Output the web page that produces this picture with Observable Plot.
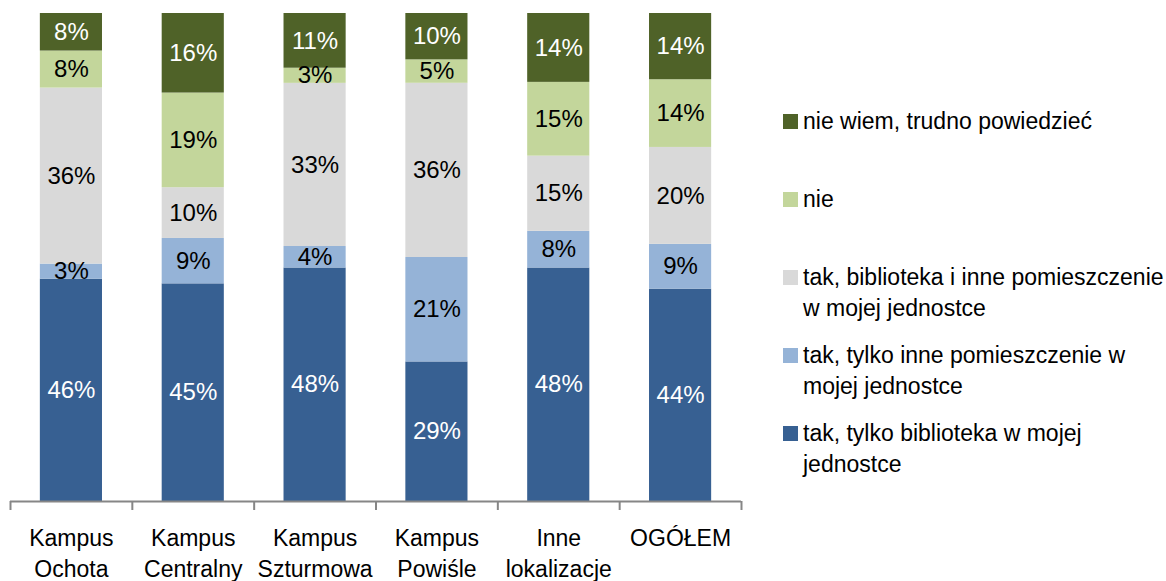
<!DOCTYPE html>
<html><head><meta charset="utf-8">
<script src="https://cdn.jsdelivr.net/npm/d3@7"></script>
<script src="https://cdn.jsdelivr.net/npm/@observablehq/plot@0.6"></script>
<style>
body{margin:0;background:#fff;font-family:"Liberation Sans",Arial,sans-serif;}
#wrap{position:relative;width:1166px;height:581px;overflow:hidden}
#chart{position:absolute;left:0;top:0}
#legend{position:absolute;left:783px;top:106px;}
.item{display:flex;align-items:flex-start;height:78px}
.sw{width:15px;height:15px;margin-right:5px;margin-top:8px;flex:none}
.lab{font-size:23px;line-height:31px;color:#000;width:365px}
</style></head><body><div id="wrap"><div id="chart"></div><div id="legend"></div></div>
<script>
const categories = ["Kampus\nOchota","Kampus\nCentralny","Kampus\nSzturmowa","Kampus\nPowiśle","Inne\nlokalizacje","OGÓŁEM"];
const seriesNames = [
  "tak, tylko biblioteka w mojej jednostce",
  "tak, tylko inne pomieszczenie w mojej jednostce",
  "tak, biblioteka i inne pomieszczenie w mojej jednostce",
  "nie",
  "nie wiem, trudno powiedzieć"
];
const tylkoBiblioteka = [45.6, 44.6, 47.8, 28.6, 47.8, 43.6];
const tylkoInne       = [3.1, 9.3, 4.4, 21.4, 7.5, 9.2];
const bibliotekaIInne = [36.1, 10.4, 33.4, 35.7, 15.4, 19.9];
const nie             = [7.6, 19.4, 3.1, 4.8, 15.1, 13.9];
const nieWiem         = [7.7, 16.3, 11.2, 9.5, 14.1, 13.6];
const seriesValues = [tylkoBiblioteka, tylkoInne, bibliotekaIInne, nie, nieWiem];
const colors = ["#376092", "#95B3D7", "#D9D9D9", "#C3D69B", "#4F6228"];
const labelColors = ["#ffffff", "#000000", "#000000", "#000000", "#ffffff"];

const data = [];
categories.forEach((c, i) => seriesValues.forEach((arr, k) => data.push({cat: c, series: seriesNames[k], k, value: arr[i]})));

const FONT = '"Liberation Sans",Arial,sans-serif';
const W = 760, ML = 10, MR = 19, MT = 13, H = 581, MB = 80;
const PAD = 0.49;
const bw = (W - ML - MR) / categories.length;
const axisColor = "#868686";

const chart = Plot.plot({
  width: W, height: H,
  marginLeft: ML, marginRight: MR, marginTop: MT, marginBottom: MB,
  style: {fontFamily: FONT, background: "transparent", overflow: "visible"},
  x: {domain: categories, paddingInner: PAD, paddingOuter: PAD / 2, round: false, axis: null},
  y: {domain: [0, 1], axis: null},
  color: {type: "identity"},
  marks: [
    Plot.barY(data, Plot.stackY({offset: "normalize", x: "cat", y: "value", z: "series", fill: d => colors[d.k]})),
    Plot.text(data, Plot.stackY({offset: "normalize", x: "cat", y: "value", z: "series",
      text: d => Math.round(d.value) + "%", fill: d => labelColors[d.k], fontSize: 24})),
    Plot.ruleY([0], {stroke: axisColor, strokeWidth: 2}),
    Plot.ruleX(categories, {x: d => d, dx: -bw / 2, y1: 0, y2: 0, insetBottom: -9, stroke: axisColor, strokeWidth: 2}),
    Plot.ruleX([categories[categories.length - 1]], {x: d => d, dx: bw / 2, y1: 0, y2: 0, insetBottom: -9, stroke: axisColor, strokeWidth: 2}),
    Plot.axisX({tickSize: 0, tickPadding: 22, fontSize: 23, lineHeight: 1.35, fill: "#000", label: null})
  ]
});
document.getElementById("chart").appendChild(chart);

const legend = document.getElementById("legend");
for (let k = seriesNames.length - 1; k >= 0; k--) {
  const item = document.createElement("div");
  item.className = "item";
  const sw = document.createElement("div");
  sw.className = "sw";
  sw.style.background = colors[k];
  const lab = document.createElement("div");
  lab.className = "lab";
  lab.textContent = seriesNames[k];
  item.appendChild(sw); item.appendChild(lab);
  legend.appendChild(item);
}
</script></body></html>
